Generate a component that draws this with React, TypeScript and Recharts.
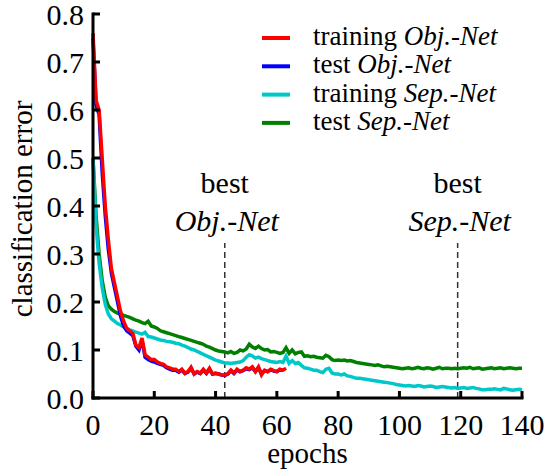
import React from 'react';
import { LineChart, Line, XAxis, YAxis, ReferenceLine, ReferenceDot, Legend } from 'recharts';

const FONT = '"Liberation Serif"';
const txt = { fontFamily: FONT };

const xTicks = [0, 20, 40, 60, 80, 100, 120, 140];
const yTicks = [0, 0.1, 0.2, 0.3, 0.4, 0.5, 0.6, 0.7, 0.8];

const trainObj = [
  0.76, 0.62, 0.6, 0.5, 0.4, 0.33, 0.27, 0.24, 0.21, 0.18,
  0.16, 0.145, 0.14, 0.135, 0.11, 0.105, 0.125, 0.09, 0.085, 0.08,
  0.08, 0.075, 0.072, 0.07, 0.065, 0.063, 0.06, 0.06, 0.055, 0.06,
  0.052, 0.055, 0.064, 0.05, 0.055, 0.052, 0.06, 0.052, 0.062, 0.05,
  0.052, 0.05, 0.048, 0.048, 0.05, 0.058, 0.052, 0.06, 0.055, 0.058,
  0.063, 0.06, 0.065, 0.055, 0.065, 0.048, 0.058, 0.055, 0.06, 0.057,
  0.055, 0.06, 0.058, 0.062,
];

const testObj = [
  0.75, 0.61, 0.59, 0.47, 0.38, 0.31, 0.26, 0.23, 0.2, 0.17,
  0.15, 0.14, 0.135, 0.13, 0.108, 0.1, 0.12, 0.085, 0.08, 0.077,
  0.075, 0.072, 0.07, 0.068, 0.063, 0.06, 0.058, 0.058, 0.054, 0.058,
  0.051, 0.054, 0.062, 0.05, 0.054, 0.051, 0.058, 0.051, 0.06, 0.05,
  0.051, 0.05, 0.048, 0.047, 0.05, 0.057, 0.051, 0.058, 0.055, 0.057,
  0.061, 0.059, 0.063, 0.055, 0.063, 0.05, 0.057, 0.055, 0.059, 0.056,
  0.055, 0.059, 0.057,
];

const trainSep = [
  0.5, 0.36, 0.28, 0.23, 0.195, 0.175, 0.165, 0.16, 0.155, 0.152,
  0.148, 0.145, 0.142, 0.14, 0.137, 0.135, 0.133, 0.137, 0.128, 0.127,
  0.125, 0.123, 0.121, 0.12, 0.118, 0.117, 0.116, 0.114, 0.113, 0.11,
  0.108, 0.105, 0.102, 0.1, 0.097, 0.094, 0.091, 0.088, 0.085, 0.082,
  0.079, 0.077, 0.075, 0.073, 0.073, 0.072, 0.073, 0.074, 0.075, 0.078,
  0.085, 0.09, 0.088, 0.083, 0.085, 0.082, 0.08, 0.078, 0.076, 0.075,
  0.074, 0.076, 0.074, 0.087, 0.072, 0.078, 0.072, 0.074, 0.068, 0.063,
  0.062, 0.06, 0.058, 0.058, 0.055, 0.053, 0.06, 0.062, 0.052, 0.05,
  0.05, 0.048, 0.05, 0.046, 0.045, 0.043, 0.041, 0.041, 0.04, 0.039,
  0.038, 0.037, 0.036, 0.035, 0.034, 0.033, 0.032, 0.031, 0.03, 0.028,
  0.027, 0.026, 0.025, 0.026, 0.025, 0.024, 0.026, 0.025, 0.023, 0.024,
  0.025, 0.024, 0.022, 0.023, 0.024, 0.023, 0.022, 0.021, 0.022, 0.02,
  0.021, 0.022, 0.02, 0.021, 0.022, 0.02, 0.019, 0.017, 0.017, 0.018,
  0.018, 0.019, 0.018, 0.017, 0.02, 0.019, 0.017, 0.016, 0.017, 0.018,
  0.017,
];

const testSep = [
  0.5, 0.38, 0.3, 0.245, 0.21, 0.192, 0.185, 0.18, 0.177, 0.175,
  0.172, 0.17, 0.168, 0.165, 0.162, 0.16, 0.157, 0.155, 0.16, 0.15,
  0.148, 0.145, 0.14, 0.138, 0.136, 0.134, 0.132, 0.13, 0.128, 0.126,
  0.124, 0.122, 0.12, 0.118, 0.116, 0.114, 0.112, 0.108, 0.106, 0.103,
  0.1, 0.098, 0.097, 0.096, 0.094, 0.097, 0.093, 0.095, 0.1, 0.098,
  0.102, 0.112, 0.106, 0.103, 0.108, 0.103, 0.1, 0.101, 0.096, 0.097,
  0.095, 0.093, 0.095, 0.105, 0.093, 0.1, 0.092, 0.095, 0.096, 0.087,
  0.088, 0.086, 0.087, 0.085, 0.084, 0.083, 0.089, 0.086, 0.08, 0.078,
  0.079, 0.078, 0.079, 0.077, 0.078, 0.076, 0.074, 0.073, 0.072, 0.071,
  0.07, 0.069, 0.068, 0.069, 0.067, 0.065, 0.066, 0.065, 0.064, 0.063,
  0.062, 0.061, 0.062, 0.063, 0.061, 0.062, 0.064, 0.062, 0.061, 0.063,
  0.062, 0.06, 0.062, 0.064, 0.061, 0.062, 0.062, 0.061, 0.062, 0.061,
  0.062, 0.063, 0.062, 0.064, 0.061, 0.062, 0.063, 0.06, 0.061, 0.062,
  0.063, 0.061, 0.062, 0.063, 0.061, 0.062, 0.063, 0.062, 0.061, 0.062,
  0.062,
];

const epochs = trainSep.map((_, i) => i);

const bestObj = 43;
const bestSep = 119;

const series = [
  { key: 'trainObj', color: '#ff0000', prefix: 'training', model: 'Obj.-Net' },
  { key: 'testObj', color: '#0000ff', prefix: 'test', model: 'Obj.-Net' },
  { key: 'trainSep', color: '#00c8c8', prefix: 'training', model: 'Sep.-Net' },
  { key: 'testSep', color: '#008000', prefix: 'test', model: 'Sep.-Net' },
];

const data = epochs.map((e, i) => ({
  epoch: e,
  trainObj: i < trainObj.length ? trainObj[i] : null,
  testObj: i < testObj.length ? testObj[i] : null,
  trainSep: trainSep[i],
  testSep: testSep[i],
}));

const TICK = 7;

const XTickBottom = (p: any) => (
  <g>
    <line x1={p.x} y1={p.y} x2={p.x} y2={p.y - TICK} stroke="#000" strokeWidth={3} />
    <text x={p.x} y={p.y + 37} textAnchor="middle" fontSize={30} fontFamily="Liberation Serif" style={txt} fill="#000">
      {p.payload.value}
    </text>
  </g>
);

const XTickTop = (p: any) => (
  <line x1={p.x} y1={p.y} x2={p.x} y2={p.y + TICK} stroke="#000" strokeWidth={3} />
);

const YTickLeft = (p: any) => (
  <g>
    <line x1={p.x} y1={p.y} x2={p.x + TICK} y2={p.y} stroke="#000" strokeWidth={3} />
    <text x={p.x - 9} y={p.y + 10.5} textAnchor="end" fontSize={30} fontFamily="Liberation Serif" style={txt} fill="#000">
      {Number(p.payload.value).toFixed(1)}
    </text>
  </g>
);

const YTickRight = (p: any) => (
  <line x1={p.x} y1={p.y} x2={p.x - TICK} y2={p.y} stroke="#000" strokeWidth={3} />
);

const YTitle = (p: any) => {
  const vb = p.viewBox;
  const x = vb.x + 32;
  const y = vb.y + vb.height / 2 + 3;
  return (
    <text x={x} y={y} transform={`rotate(-90, ${x}, ${y})`} textAnchor="middle" fontSize={29} fontFamily="Liberation Serif" style={txt} fill="#000">
      classification error
    </text>
  );
};

const XTitle = (p: any) => {
  const vb = p.viewBox;
  return (
    <text x={vb.x + vb.width / 2} y={vb.y + 65} textAnchor="middle" fontSize={29} fontFamily="Liberation Serif" style={txt} fill="#000">
      epochs
    </text>
  );
};

const makeAnnot = (model: string) => (p: any) => (
  <g>
    <text x={p.cx} y={p.cy} textAnchor="middle" fontSize={30} fontFamily="Liberation Serif" style={txt} fill="#000">best</text>
    <text x={p.cx + 2} y={p.cy + 38} textAnchor="middle" fontSize={30} fontFamily="Liberation Serif" style={{ ...txt, fontStyle: 'italic' }} fill="#000">
      {model}
    </text>
  </g>
);

const LegendBox = () => (
  <svg width={270} height={125} style={{ display: 'block' }}>
    {series.map((s, i) => {
      const cy = 18 + i * 28.3;
      return (
        <g key={s.key}>
          <line x1={12} y1={cy} x2={40} y2={cy} stroke={s.color} strokeWidth={4} />
          <text x={63} y={cy + 7} fontSize={27} fontFamily="Liberation Serif" style={txt} fill="#000">
            {s.prefix} <tspan style={{ fontStyle: 'italic' }}>{s.model}</tspan>
          </text>
        </g>
      );
    })}
  </svg>
);

const axisLine = { stroke: '#000', strokeWidth: 3, strokeLinecap: 'square' as const };

export default function App() {
  const drawOrder = [series[3], series[2], series[1], series[0]];
  return (
    <div style={{ position: 'absolute', left: 0, top: 0, width: 546, height: 470, background: '#fff', fontFamily: FONT }}>
      <LineChart width={546} height={470} data={data} margin={{ top: 14, right: 24, left: 0, bottom: 0 }} style={txt}>
        <XAxis
          xAxisId="b"
          dataKey="epoch"
          type="number"
          domain={[0, 140]}
          ticks={xTicks}
          interval={0}
          tickSize={0}
          tickMargin={0}
          tickLine={false}
          axisLine={axisLine}
          tick={<XTickBottom />}
          height={72}
          label={{ content: <XTitle /> }}
        />
        <XAxis
          xAxisId="t"
          orientation="top"
          dataKey="epoch"
          type="number"
          domain={[0, 140]}
          ticks={xTicks}
          interval={0}
          tickSize={0}
          tickMargin={0}
          tickLine={false}
          axisLine={axisLine}
          tick={<XTickTop />}
          height={0}
        />
        <YAxis
          yAxisId="l"
          type="number"
          domain={[0, 0.8]}
          ticks={yTicks}
          interval={0}
          tickSize={0}
          tickMargin={0}
          tickLine={false}
          axisLine={axisLine}
          tick={<YTickLeft />}
          width={93}
          label={{ content: <YTitle /> }}
        />
        <YAxis
          yAxisId="r"
          orientation="right"
          type="number"
          domain={[0, 0.8]}
          ticks={yTicks}
          interval={0}
          tickSize={0}
          tickMargin={0}
          tickLine={false}
          axisLine={axisLine}
          tick={<YTickRight />}
          width={0}
        />
        <ReferenceLine
          xAxisId="b"
          yAxisId="l"
          segment={[{ x: bestObj, y: 0 }, { x: bestObj, y: 0.323 }]}
          stroke="#333"
          strokeWidth={1.5}
          strokeDasharray="6 4"
        />
        <ReferenceLine
          xAxisId="b"
          yAxisId="l"
          segment={[{ x: bestSep, y: 0 }, { x: bestSep, y: 0.323 }]}
          stroke="#333"
          strokeWidth={1.5}
          strokeDasharray="6 4"
        />
        <ReferenceDot xAxisId="b" yAxisId="l" x={bestObj} y={0.427} r={0} ifOverflow="visible" shape={makeAnnot('Obj.-Net')} />
        <ReferenceDot xAxisId="b" yAxisId="l" x={bestSep} y={0.427} r={0} ifOverflow="visible" shape={makeAnnot('Sep.-Net')} />
        {drawOrder.map((s) => (
          <Line
            key={s.key}
            xAxisId="b"
            yAxisId="l"
            type="linear"
            dataKey={s.key}
            stroke={s.color}
            strokeWidth={3.5}
            dot={false}
            activeDot={false}
            isAnimationActive={false}
          />
        ))}
        <Legend
          layout="horizontal"
          verticalAlign="middle"
          align="center"
          content={<LegendBox />}
          wrapperStyle={{ position: 'absolute', left: 250, top: 20, width: 270, height: 125 }}
        />
      </LineChart>
    </div>
  );
}
